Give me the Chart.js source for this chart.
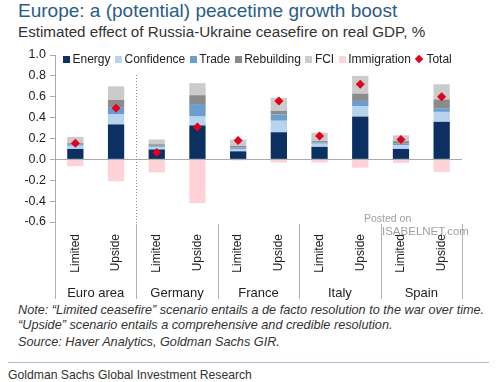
<!DOCTYPE html>
<html>
<head>
<meta charset="utf-8">
<script src="https://cdn.jsdelivr.net/npm/chart.js@4"></script>
<style>
  body { margin: 0; width: 500px; height: 382px; background: #fff; position: relative; overflow: hidden;
         font-family: "Liberation Sans", Arial, sans-serif; }
  #wrap { position: absolute; left: 0; top: 0; width: 500px; height: 300px; }
  .title { position: absolute; left: 18px; top: 0px; font-size: 19px; color: #2b5c88; white-space: nowrap; }
  .sub { position: absolute; left: 18px; top: 23px; font-size: 15.2px; color: #333; white-space: nowrap; }
  #legend { position: absolute; left: 63px; top: 52px; display: flex; font-size: 12px; color: #222; white-space: nowrap; }
  #legend span.it { display: flex; align-items: center; margin-right: 4.5px; }
  #legend i { display: inline-block; width: 7px; height: 7px; margin-right: 2.5px; }
  #legend i.dia { width: 6px; height: 6px; transform: rotate(45deg); margin-right: 4px; margin-left: 1px; }
  .note { position: absolute; left: 18px; font-size: 12.7px; font-style: italic; color: #333; white-space: nowrap; }
  .rule { position: absolute; left: 8px; top: 362px; width: 481px; height: 1px; background: #b4b4d4; }
  .foot { position: absolute; left: 8px; top: 368px; font-size: 12.2px; color: #333; white-space: nowrap; }
  .wm { position: absolute; color: #a0a0a0; white-space: nowrap; }
</style>
</head>
<body>
<div class="title">Europe: a (potential) peacetime growth boost</div>
<div class="sub">Estimated effect of Russia-Ukraine ceasefire on real GDP, %</div>
<div id="wrap"><canvas id="chart1"></canvas></div>
<div id="legend"></div>
<div class="wm" style="left:364px;top:212px;font-size:10.5px;">Posted on</div>
<div class="wm" style="left:382px;top:225px;font-size:11.5px;">ISABELNET.com</div>
<div class="note" style="top:303px;">Note: “Limited ceasefire” scenario entails a de facto resolution to the war over time.</div>
<div class="note" style="top:318px;">“Upside” scenario entails a comprehensive and credible resolution.</div>
<div class="note" style="top:335px;">Source: Haver Analytics, Goldman Sachs GIR.</div>
<div class="rule"></div>
<div class="foot">Goldman Sachs Global Investment Research</div>
<script>
const labels = ['Limited', 'Upside', 'Limited', 'Upside', 'Limited', 'Upside', 'Limited', 'Upside', 'Limited', 'Upside'];
const groups = ['Euro area', 'Germany', 'France', 'Italy', 'Spain'];

const energy      = [0.10, 0.335, 0.095, 0.325, 0.077, 0.26, 0.12, 0.41, 0.10, 0.36];
const confidence  = [0.03, 0.095, 0.025, 0.085, 0.023, 0.11, 0.03, 0.10, 0.035, 0.095];
const trade       = [0.01, 0.07, 0.01, 0.12, 0.015, 0.06, 0.01, 0.05, 0.015, 0.035];
const rebuilding  = [0.015, 0.07, 0.015, 0.085, 0.013, 0.035, 0.015, 0.07, 0.025, 0.085];
const fci         = [0.06, 0.13, 0.045, 0.115, 0.062, 0.125, 0.08, 0.17, 0.055, 0.145];
const immigration = [-0.065, -0.21, -0.125, -0.42, -0.01, -0.03, -0.03, -0.08, -0.035, -0.12];
const total       = [0.155, 0.49, 0.065, 0.31, 0.18, 0.56, 0.225, 0.72, 0.19, 0.60];

const yTicks = [-0.6, -0.4, -0.2, 0.0, 0.2, 0.4, 0.6, 0.8, 1.0];

const series = [
    {name: 'Energy', data: energy, color: '#0c3061'},
    {name: 'Confidence', data: confidence, color: '#b8d3ed'},
    {name: 'Trade', data: trade, color: '#6b9dcf'},
    {name: 'Rebuilding', data: rebuilding, color: '#8b8b8b'},
    {name: 'FCI', data: fci, color: '#cbcbcb'},
    {name: 'Immigration', data: immigration, color: '#ffd2d7'}
];
const totalColor = '#e2001a';

// legend in html
let legend = document.getElementById('legend');
series.forEach(s => {
    legend.innerHTML += `<span class="it"><i style="background:${s.color}"></i>${s.name}</span>`;
});
legend.innerHTML += `<span class="it"><i class="dia" style="background:${totalColor}"></i>Total</span>`;

// group labels and separators under the axis
const groupPlugin = {
    id: 'groups',
    afterDraw(chart) {
        const ctx = chart.ctx;
        const x = chart.scales.x;
        const area = chart.chartArea;
        const bottom = area.bottom + 77;
        ctx.save();
        ctx.strokeStyle = '#b0b0b0';
        ctx.lineWidth = 1;
        // y axis continues down
        ctx.beginPath();
        ctx.moveTo(x.left + 0.5, area.bottom);
        ctx.lineTo(x.left + 0.5, bottom);
        ctx.stroke();
        for (let g = 0; g < groups.length; g++) {
            const cx = (x.getPixelForValue(2 * g) + x.getPixelForValue(2 * g + 1)) / 2;
            ctx.fillStyle = '#222';
            ctx.font = '13px "Liberation Sans", Arial, sans-serif';
            ctx.textAlign = 'center';
            ctx.textBaseline = 'middle';
            ctx.fillText(groups[g], cx, area.bottom + 71);
            const sx = g < groups.length - 1
                ? Math.round((x.getPixelForValue(2 * g + 1) + x.getPixelForValue(2 * g + 2)) / 2) + 0.5
                : Math.round(x.right) + 0.5;
            ctx.setLineDash([]);
            ctx.beginPath();
            ctx.moveTo(sx, area.bottom + 2);
            ctx.lineTo(sx, bottom);
            ctx.stroke();
            if (g === 0) {
                ctx.setLineDash([1, 2]);
                ctx.strokeStyle = '#888';
                ctx.beginPath();
                ctx.moveTo(sx, area.top + 20);
                ctx.lineTo(sx, area.bottom + 2);
                ctx.stroke();
                ctx.strokeStyle = '#b0b0b0';
            }
        }
        ctx.restore();
    }
};

let chart1 = document.getElementById('chart1');

new Chart(chart1, {
    type: 'bar',
    data: {
        labels: labels,
        datasets: [
            ...series.map(s => ({
                label: s.name,
                data: s.data,
                backgroundColor: s.color,
                borderWidth: 0,
                barPercentage: 0.4,
                categoryPercentage: 1,
                order: 2
            })),
            {
                type: 'line',
                label: 'Total',
                data: total,
                stack: 'total',
                showLine: false,
                pointStyle: 'rectRot',
                pointRadius: 4.5,
                backgroundColor: totalColor,
                borderColor: totalColor,
                borderWidth: 0,
                order: 0
            }
        ]
    },
    options: {
        responsive: true,
        maintainAspectRatio: false,
        animation: false,
        layout: {
            padding: {top: 55, left: 15, right: 38, bottom: 0}
        },
        plugins: {
            legend: {display: false},
            tooltip: {enabled: false}
        },
        scales: {
            x: {
                stacked: true,
                grid: {display: false},
                border: {display: false},
                ticks: {
                    minRotation: 90,
                    maxRotation: 90,
                    padding: 4,
                    color: '#222',
                    font: {size: 12, family: '"Liberation Sans", Arial, sans-serif'}
                },
                afterFit(scale) { scale.height = 78; }
            },
            y: {
                stacked: true,
                min: -0.6,
                max: 1.0,
                afterBuildTicks(scale) { scale.ticks = yTicks.map(v => ({value: v})); },
                afterFit(scale) { scale.width = 40; },
                border: {display: true, color: '#aaa'},
                grid: {
                    color: c => (c.tick && Math.abs(c.tick.value) < 1e-9) ? '#aaa' : 'rgba(0,0,0,0)',
                    tickColor: '#aaa',
                    tickLength: 5,
                    drawOnChartArea: true
                },
                ticks: {
                    padding: 4,
                    color: '#222',
                    font: {size: 12.5, family: '"Liberation Sans", Arial, sans-serif'},
                    callback: v => v.toFixed(1)
                }
            }
        }
    },
    plugins: [groupPlugin]
});
</script>
</body>
</html>
